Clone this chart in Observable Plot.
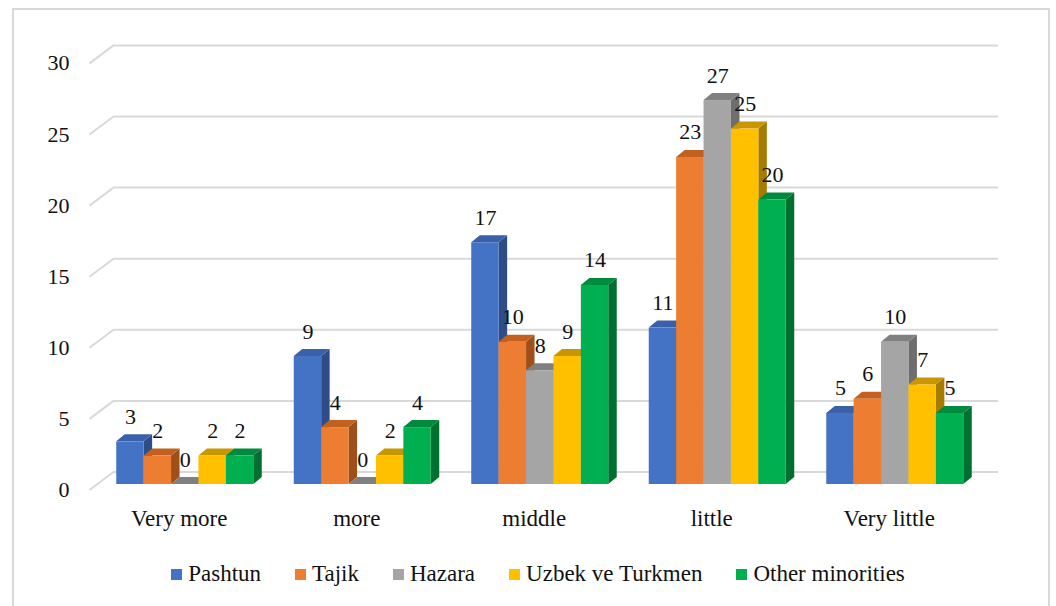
<!DOCTYPE html>
<html>
<head>
<meta charset="utf-8">
<script src="https://cdn.jsdelivr.net/npm/d3@7"></script>
<script src="https://cdn.jsdelivr.net/npm/@observablehq/plot@0.6"></script>
<style>
  html, body { margin: 0; padding: 0; background: #fff; }
  body { width: 1056px; height: 606px; position: relative; overflow: hidden; font-family: 'Liberation Serif', serif; }
  #frame { position: absolute; left: 12px; top: 8px; width: 1038px; height: 620px; border: 2px solid #d9d9d9; box-sizing: border-box; }
  #chart { position: absolute; left: 0; top: 0; }
  #legend { position: absolute; top: 561px; left: 10px; width: 1056px; display: flex; justify-content: center; align-items: center; font-size: 23px; color: #111; font-family: 'Liberation Serif', serif; }
  .item { display: flex; align-items: center; margin: 0 17px; }
  .sw { width: 11px; height: 11px; margin-right: 6px; display: inline-block; }
</style>
</head>
<body>
<div id="frame"></div>
<div id="chart"></div>
<div id="legend"></div>
<script>
// ---- data ----
const categories = ["Very more", "more", "middle", "little", "Very little"];
const series = ["Pashtun", "Tajik", "Hazara", "Uzbek ve Turkmen", "Other minorities"];
const pashtun = [3, 9, 17, 11, 5];
const tajik = [2, 4, 10, 23, 6];
const hazara = [0, 0, 8, 27, 10];
const uzbek = [2, 2, 9, 25, 7];
const others = [2, 4, 14, 20, 5];
const yTicks = [0, 5, 10, 15, 20, 25, 30];

const frontColors = ["#4472C4", "#ED7D31", "#A5A5A5", "#FFC000", "#00B050"];
const topColors = ["#3A60A8", "#C2601F", "#808080", "#C89600", "#008A3E"];
const sideColors = ["#2E4D88", "#A04F18", "#6E6E6E", "#A67C00", "#007030"];

const seriesValues = [pashtun, tajik, hazara, uzbek, others];

// ---- layout ----
const W = 1056, H = 545;
const mL = 96, mR = 72.5, mT = 57.4, mB = 61;
const kx = (W - mL - mR) / 5;          // px per x unit
const ky = (H - mT - mB) / 30;         // px per y unit
const bw = 27.4 / kx;                  // bar width in x units
const ddx = 8.5 / kx, ddy = 7 / ky;    // bar depth
const wallDy = 18 / ky;

const bars = [];
categories.forEach((c, i) => {
  series.forEach((s, j) => {
    const v = seriesValues[j][i];
    const x1 = i + 0.5 - 2.5 * bw + j * bw;
    bars.push({cat: c, series: s, j, v, x1, x2: x1 + bw, id: i * 10 + j});
  });
});

const sides = [];
const tops = [];
bars.forEach(b => {
  sides.push({id: b.id, x: b.x2, y1: 0, y2: b.v, fill: sideColors[b.j]});
  sides.push({id: b.id, x: b.x2 + ddx, y1: ddy, y2: b.v + ddy, fill: sideColors[b.j]});
  tops.push({id: b.id, x: b.x1, y1: b.v, y2: b.v, fill: topColors[b.j]});
  tops.push({id: b.id, x: b.x1 + ddx, y1: b.v, y2: b.v + ddy, fill: topColors[b.j]});
  tops.push({id: b.id, x: b.x2, y1: b.v, y2: b.v + ddy, fill: topColors[b.j]});
  tops.push({id: b.id, x: b.x2 + ddx, y1: b.v + ddy, y2: b.v + ddy, fill: topColors[b.j]});
});

const backX1 = (113 - mL) / kx, backX2 = (998 - mL) / kx, frontX = (89 - mL) / kx;
const font = "'Liberation Serif', serif";

const chart = Plot.plot({
  width: W, height: H,
  marginLeft: mL, marginRight: mR, marginTop: mT, marginBottom: mB,
  x: {type: "linear", domain: [0, 5], axis: null},
  y: {type: "linear", domain: [0, 30], axis: null},
  style: {background: "transparent", fontFamily: font},
  marks: [
    // back wall gridlines
    Plot.ruleY(yTicks, {y: d => d + wallDy, x1: backX1, x2: backX2, dy: 5.5, stroke: "#d9d9d9", strokeWidth: 2}),
    Plot.link(yTicks, {x1: frontX, y1: d => d, x2: backX1, y2: d => d + wallDy, dy: 5.5, stroke: "#d9d9d9", strokeWidth: 2}),
    // tick labels
    Plot.text(yTicks, {x: 0, y: d => d, dx: -27, dy: 5.5, text: d => String(d), textAnchor: "end", fontSize: 22, fontFamily: font, fill: "#111"}),
    // bars: sides, tops, fronts
    Plot.areaY(sides, {x: "x", y1: "y1", y2: "y2", z: "id", fill: "fill", curve: "linear"}),
    Plot.areaY(tops, {x: "x", y1: "y1", y2: "y2", z: "id", fill: "fill", curve: "linear"}),
    Plot.rect(bars, {x1: "x1", x2: "x2", y1: 0, y2: "v", fill: d => frontColors[d.j]}),
    // value labels
    Plot.text(bars, {x: d => (d.x1 + d.x2) / 2, y: "v", dy: -25, text: d => String(d.v), fontSize: 22, fontFamily: font, fill: "#111"}),
    // category labels
    Plot.text(categories, {x: (d, i) => i + 0.5, y: 0, dx: -6, dy: 34, text: d => d, fontSize: 23, fontFamily: font, fill: "#111"})
  ]
});
document.getElementById("chart").appendChild(chart);

// legend
const legend = document.getElementById("legend");
series.forEach((s, j) => {
  const item = document.createElement("div");
  item.className = "item";
  const sw = document.createElement("span");
  sw.className = "sw";
  sw.style.background = frontColors[j];
  const t = document.createElement("span");
  t.textContent = s;
  item.appendChild(sw);
  item.appendChild(t);
  legend.appendChild(item);
});
</script>
</body>
</html>
